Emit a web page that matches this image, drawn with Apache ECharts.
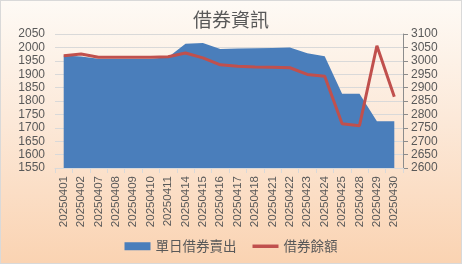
<!DOCTYPE html>
<html><head><meta charset="utf-8">
<script src="https://cdn.jsdelivr.net/npm/echarts@6/dist/echarts.min.js"></script>
<style>
html,body{margin:0;padding:0;}
#c{width:460px;height:262px;border:1px solid #d9d9d9;background:linear-gradient(180deg,#fefaf5 0%,#fce9d9 45%,#fad3b2 100%);}
</style></head>
<body><div id="c"></div>
<script>
const categories=['20250401','20250402','20250407','20250408','20250409','20250410','20250411','20250414','20250415','20250416','20250417','20250418','20250421','20250422','20250423','20250424','20250425','20250428','20250429','20250430'];
const dailySell=[1970,1966,1958,1958,1958,1958,1963,2014,2016,1994,1996,1997,1998,2000,1978,1967,1827,1827,1724,1724];
const balance=[3019,3025,3013,3013,3013,3013,3015,3029,3011,2985,2980,2977,2976,2974,2949,2942,2765,2758,3056,2866];
const chart=echarts.init(document.getElementById('c'),null,{renderer:'canvas'});
const lab={color:'#595959',fontSize:12,fontFamily:'Liberation Sans, Arial, sans-serif',formatter:v=>String(v)};
chart.setOption({
  backgroundColor:'transparent',
  animation:false,
  title:{text:'借券資訊',left:'center',top:4,textStyle:{color:'#595959',fontSize:19,fontWeight:'normal',fontFamily:'Noto Sans CJK TC'}},
  legend:{bottom:5,left:'center',itemGap:16,itemWidth:26,itemHeight:8,textStyle:{color:'#595959',fontSize:13.5,fontFamily:'Noto Sans CJK TC'},
    data:[{name:'單日借券賣出',icon:'rect'},{name:'借券餘額',icon:'path://M0,0 L30,0 L30,4 L0,4 Z'}]},
  grid:{left:54,right:58,top:33,bottom:95},
  xAxis:{type:'category',data:categories,boundaryGap:true,
    axisLine:{lineStyle:{color:'#d9d9d9'}},axisTick:{show:true,lineStyle:{color:'#d9d9d9'}},
    axisLabel:Object.assign({},lab,{rotate:90,interval:0,margin:8,fontSize:11.5})},
  yAxis:[
    {type:'value',min:1550,max:2050,interval:50,axisLine:{show:false},axisTick:{show:false},
     splitLine:{lineStyle:{color:'#d9d9d9'}},axisLabel:Object.assign({},lab,{margin:10})},
    {type:'value',min:2600,max:3100,interval:50,position:'right',axisLine:{show:true,lineStyle:{color:'#8c8c8c'}},
     axisTick:{show:true,inside:false,length:5,lineStyle:{color:'#8c8c8c'}},splitLine:{show:false},axisLabel:Object.assign({},lab,{margin:8})}
  ],
  series:[
    {name:'單日借券賣出',type:'line',data:dailySell,yAxisIndex:0,symbol:'none',
     lineStyle:{width:0,color:'#4a7ebb'},itemStyle:{color:'#4a7ebb'},areaStyle:{color:'#4a7ebb',opacity:1,origin:'start'}},
    {name:'借券餘額',type:'line',data:balance,yAxisIndex:1,symbol:'none',
     lineStyle:{width:3,color:'#c0504d'},itemStyle:{color:'#c0504d'}}
  ]
});
</script></body></html>
